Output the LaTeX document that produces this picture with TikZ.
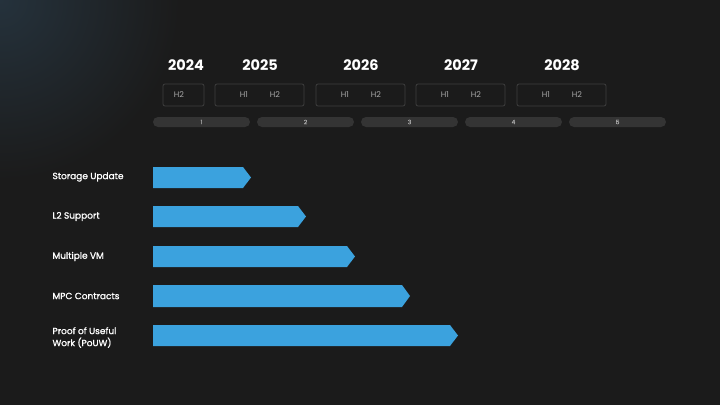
\documentclass[tikz,border=0pt]{standalone}
\usepackage{fontspec}
\setmainfont{Poppins}
\newfontfamily\taskfont{Poppins}[FakeBold=1.2]
\usepackage{tikz}
\usetikzlibrary{positioning}
\definecolor{bgdark}{HTML}{1B1B1B}
\definecolor{glow}{HTML}{25323C}
\definecolor{barblue}{HTML}{3BA2DE}
\definecolor{boxline}{HTML}{3E3E3E}
\definecolor{pillgray}{HTML}{343434}
\definecolor{softgray}{HTML}{A8A8A8}
\tikzset{>=latex}

\begin{document}
\begin{tikzpicture}[x=1pt, y=-1pt]
        \tikzstyle{year}=[text=white, font=\fontsize{14.5}{16}\selectfont\bfseries]
        \tikzstyle{half}=[draw=boxline, line width=0.8pt, rounded corners=2pt, fill=bgdark]
        \tikzstyle{hlabel}=[text=softgray, font=\fontsize{8}{9}\selectfont]
        \tikzstyle{pill}=[fill=pillgray, rounded corners=5pt]
        \tikzstyle{pnum}=[text=softgray, font=\taskfont\fontsize{6}{7}\selectfont]
        \tikzstyle{task}=[text=white, anchor=west, align=left, font=\taskfont\fontsize{9}{12}\selectfont]
        \tikzstyle{bar}=[fill=barblue]

        % background
        \useasboundingbox (0,0) rectangle (720,405);
        \fill[bgdark] (0,0) rectangle (720,405);
        \begin{scope}
                \clip (0,0) rectangle (720,405);
                \shade[inner color=glow, outer color=bgdark] (0,0) circle (180);
        \end{scope}

        % years
        \node[year] (y2024) at (186, 65) {2024};
        \node[year] (y2025) at (260, 65) {2025};
        \node[year] (y2026) at (361, 65) {2026};
        \node[year] (y2027) at (461, 65) {2027};
        \node[year] (y2028) at (562, 65) {2028};

        % half year boxes
        \draw[half] (163, 84) rectangle (204, 106);
        \node[hlabel] (h24b) at (179, 95) {H2};
        \foreach \x/\n in {215/25, 316/26, 416/27, 517/28} {
                \draw[half] (\x, 84) rectangle (\x+89, 106);
                \node[hlabel] (h\n a) at (\x+29, 95) {H1};
                \node[hlabel] (h\n b) at (\x+60, 95) {H2};
        }

        % quarters
        \foreach \i in {1,...,5} {
                \fill[pill] (153+104*\i-104, 117) rectangle (250+104*\i-104, 127);
                \node[pnum] (p\i) at (201.5+104*\i-104, 122) {\i};
        }

        % tasks
        \node[task] (storage) at (49, 177) {Storage Update};
        \fill[bar] (153,167) -- (243,167) -- (251,177.5) -- (243,188) -- (153,188) -- cycle;

        \node[task] (ltwo) at (49, 216.5) {L2 Support};
        \fill[bar] (153,206) -- (298,206) -- (306,216.5) -- (298,227) -- (153,227) -- cycle;

        \node[task] (multi) at (49, 256.5) {Multiple VM};
        \fill[bar] (153,246) -- (347,246) -- (355,256.5) -- (347,267) -- (153,267) -- cycle;

        \node[task] (mpc) at (49, 296) {MPC Contracts};
        \fill[bar] (153,285) -- (402,285) -- (410,296) -- (402,307) -- (153,307) -- cycle;

        \node[task] (pouw) at (49, 337.5) {Proof of Useful\\Work (PoUW)};
        \fill[bar] (153,325) -- (450,325) -- (458,335.5) -- (450,346) -- (153,346) -- cycle;
\end{tikzpicture}
\end{document}
